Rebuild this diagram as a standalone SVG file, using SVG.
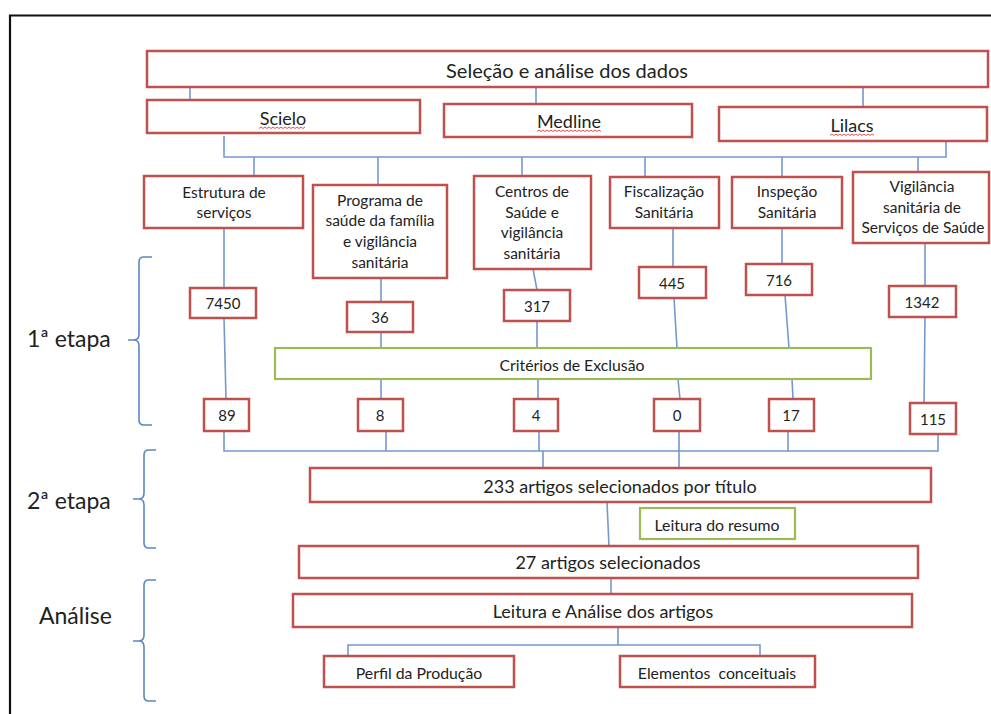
<svg xmlns="http://www.w3.org/2000/svg" width="991" height="714" viewBox="0 0 991 714">
<style>
.bg{fill:#fff}
.r{fill:#fff;stroke:#c0504d;stroke-width:2.5}
.g{fill:#fff;stroke:#9bbb59;stroke-width:2.2}
.c{fill:none;stroke:#7399cf;stroke-width:1.6}
.br{fill:none;stroke:#5b86c4;stroke-width:1.6}
text{font-family:Lato,"Liberation Sans",sans-serif;fill:#222;text-anchor:middle;dominant-baseline:central}
.t14{font-size:15.8px}
.t15{font-size:15.5px}
.tn{font-size:15px}
.t17{font-size:18px}
.t18{font-size:20px}
.lab{font-size:23px;text-anchor:start}
.sq{fill:none;stroke:#e04040;stroke-width:0.9}
</style>
<rect class="bg" x="0" y="0" width="991" height="714"/>
<path d="M10,714 V15.5 H991" fill="none" stroke="#111" stroke-width="2.2"/>

<g id="connectors">
<path class="c" d="M190,83 V100 M536,87 V104 M863,87 V107"/>
<path class="c" d="M224,136 V157 H946 V142 M254,157 V176 M378,157 V185 M522,157 V176 M645,157 V177 M782,157 V177 M918,157 V172"/>
<path class="c" d="M224,228 V288 M224,318 L226,399"/>
<path class="c" d="M381,278 V302 M381,332 V348 M381,379 V399"/>
<path class="c" d="M533,269 L537,290 M537,321 V348 M538,379 V399"/>
<path class="c" d="M673,228 V267 M674,298 L677,348 M678,379 L680,399"/>
<path class="c" d="M782,228 V264 M785,295 L789,348 M792,379 L793,399"/>
<path class="c" d="M925,243 V286 M925,317 L924,403"/>
<path class="c" d="M224,431 V451 H938 V434 M386,431 V451 M539,431 V451 M679,431 V469 M788,431 V451 M543,451 V468"/>
<path class="c" d="M607,502 L609,546 M611,578 V594"/>
<path class="c" d="M618,627 V645 M348,656 V645 H760 V656"/>
</g>

<g id="braces">
<path class="br" d="M152,257 H144 Q139,257 139,262 V334 Q139,340 134,340 H128 M134,340 Q139,340 139,346 V420 Q139,425 144,425 H152"/>
<path class="br" d="M156,450 H149 Q144,450 144,455 V493 Q144,499 139,499 H133 M139,499 Q144,499 144,505 V543 Q144,548 149,548 H156"/>
<path class="br" d="M156,580 H149 Q144,580 144,585 V635 Q144,641 139,641 H133 M139,641 Q144,641 144,647 V696 Q144,701 149,701 H156"/>
</g>

<g id="labels">
<text class="lab" x="27" y="338">1ª etapa</text>
<text class="lab" x="27" y="500">2ª etapa</text>
<text class="lab" x="39" y="615">Análise</text>
</g>

<g id="n-selecao"><rect class="r" x="147" y="51" width="841" height="36"/><text class="t18" x="567" y="70">Seleção e análise dos dados</text></g>
<g id="n-scielo"><rect class="r" x="147" y="100" width="273" height="33"/><text class="t17" x="283" y="118">Scielo</text><path class="sq" d="M259,128.5 l2,-1.5 l2,1.5 l2,-1.5 l2,1.5 l2,-1.5 l2,1.5 l2,-1.5 l2,1.5 l2,-1.5 l2,1.5 l2,-1.5 l2,1.5 l2,-1.5 l2,1.5 l2,-1.5 l2,1.5 l2,-1.5 l2,1.5 l2,-1.5 l2,1.5 l2,-1.5 l2,1.5 l2,-1.5"/></g>
<g id="n-medline"><rect class="r" x="444" y="104" width="248" height="33"/><text class="t17" x="569" y="121">Medline</text><path class="sq" d="M537,131.5 l2,-1.5 l2,1.5 l2,-1.5 l2,1.5 l2,-1.5 l2,1.5 l2,-1.5 l2,1.5 l2,-1.5 l2,1.5 l2,-1.5 l2,1.5 l2,-1.5 l2,1.5 l2,-1.5 l2,1.5 l2,-1.5 l2,1.5 l2,-1.5 l2,1.5 l2,-1.5 l2,1.5 l2,-1.5 l2,1.5 l2,-1.5 l2,1.5 l2,-1.5 l2,1.5 l2,-1.5 l2,1.5 l2,-1.5 l2,1.5"/></g>
<g id="n-lilacs"><rect class="r" x="719" y="107" width="268" height="34"/><text class="t17" x="852" y="125">Lilacs</text><path class="sq" d="M830,135.5 l2,-1.5 l2,1.5 l2,-1.5 l2,1.5 l2,-1.5 l2,1.5 l2,-1.5 l2,1.5 l2,-1.5 l2,1.5 l2,-1.5 l2,1.5 l2,-1.5 l2,1.5 l2,-1.5 l2,1.5 l2,-1.5 l2,1.5 l2,-1.5 l2,1.5 l2,-1.5 l2,1.5"/></g>

<g id="n-estrutura"><rect class="r" x="144" y="176" width="159" height="52"/><text class="t15" x="224" y="192">Estrutura de</text><text class="t15" x="224" y="212">serviços</text></g>
<g id="n-programa"><rect class="r" x="313" y="185" width="134" height="93"/><text class="t15" x="380" y="200">Programa de</text><text class="t15" x="380" y="220">saúde da família</text><text class="t15" x="380" y="241">e vigilância</text><text class="t15" x="380" y="262">sanitária</text></g>
<g id="n-centros"><rect class="r" x="474" y="176" width="117" height="93"/><text class="t15" x="532" y="191">Centros de</text><text class="t15" x="532" y="212">Saúde e</text><text class="t15" x="532" y="232">vigilância</text><text class="t15" x="532" y="253">sanitária</text></g>
<g id="n-fiscalizacao"><rect class="r" x="610" y="177" width="109" height="51"/><text class="t15" x="664" y="191">Fiscalização</text><text class="t15" x="664" y="212">Sanitária</text></g>
<g id="n-inspecao"><rect class="r" x="732" y="177" width="110" height="51"/><text class="t15" x="787" y="191">Inspeção</text><text class="t15" x="787" y="212">Sanitária</text></g>
<g id="n-vigilancia"><rect class="r" x="853" y="172" width="136" height="71"/><text class="t15" x="922" y="186">Vigilância</text><text class="t15" x="922" y="207">sanitária de</text><text class="t15" x="923" y="227">Serviços de Saúde</text></g>

<g id="n-7450"><rect class="r" x="190" y="288" width="66" height="30"/><text class="tn" x="223" y="303">7450</text></g>
<g id="n-36"><rect class="r" x="347" y="302" width="66" height="30"/><text class="tn" x="380" y="317">36</text></g>
<g id="n-317"><rect class="r" x="504" y="290" width="66" height="31"/><text class="tn" x="537" y="306">317</text></g>
<g id="n-445"><rect class="r" x="639" y="267" width="67" height="31"/><text class="tn" x="672" y="283">445</text></g>
<g id="n-716"><rect class="r" x="746" y="264" width="66" height="31"/><text class="tn" x="779" y="280">716</text></g>
<g id="n-1342"><rect class="r" x="889" y="286" width="67" height="31"/><text class="tn" x="922" y="302">1342</text></g>

<g id="n-criterios"><rect class="g" x="275" y="348" width="596" height="31"/><text class="t14" x="572" y="364">Critérios de Exclusão</text></g>

<g id="n-89"><rect class="r" x="204" y="399" width="45" height="32"/><text class="tn" x="227" y="415">89</text></g>
<g id="n-8"><rect class="r" x="358" y="399" width="45" height="32"/><text class="tn" x="380" y="415">8</text></g>
<g id="n-4"><rect class="r" x="514" y="399" width="44" height="32"/><text class="tn" x="536" y="415">4</text></g>
<g id="n-0"><rect class="r" x="654" y="399" width="46" height="32"/><text class="tn" x="677" y="415">0</text></g>
<g id="n-17"><rect class="r" x="769" y="399" width="45" height="32"/><text class="tn" x="791" y="415">17</text></g>
<g id="n-115"><rect class="r" x="910" y="403" width="46" height="31"/><text class="tn" x="933" y="419">115</text></g>

<g id="n-233"><rect class="r" x="310" y="468" width="621" height="34"/><text class="t17" x="620" y="486">233 artigos selecionados por título</text></g>
<g id="n-resumo"><rect class="g" x="640" y="508" width="155" height="31"/><text class="t14" x="717" y="524">Leitura do resumo</text></g>
<g id="n-27"><rect class="r" x="299" y="546" width="619" height="32"/><text class="t17" x="608" y="562">27 artigos selecionados</text></g>
<g id="n-leitura"><rect class="r" x="293" y="594" width="619" height="33"/><text class="t17" x="603" y="611">Leitura e Análise dos artigos</text></g>
<g id="n-perfil"><rect class="r" x="324" y="656" width="190" height="31"/><text class="t14" x="419" y="672">Perfil da Produção</text></g>
<g id="n-elementos"><rect class="r" x="620" y="656" width="195" height="31"/><text class="t14" x="717" y="672" xml:space="preserve">Elementos  conceituais</text></g>
</svg>
